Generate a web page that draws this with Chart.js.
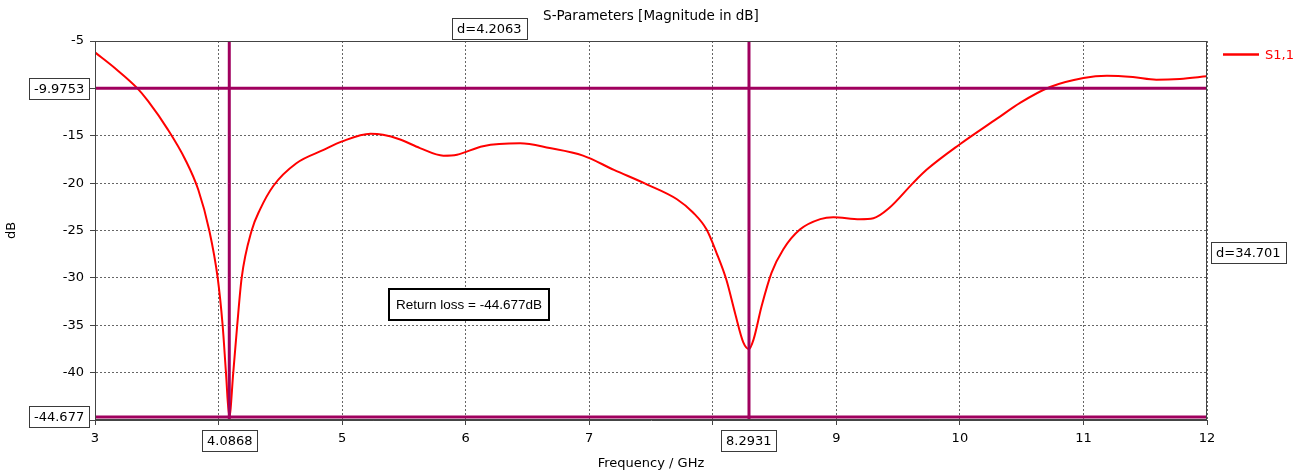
<!DOCTYPE html>
<html>
<head>
<meta charset="utf-8">
<title>S-Parameters</title>
<script src="https://cdn.jsdelivr.net/npm/chart.js@4/dist/chart.umd.min.js"></script>
<style>
    html, body { margin: 0; padding: 0; background: #fff; }
    #wrap { width: 1309px; height: 475px; position: relative; }
</style>
</head>
<body>
<div id="wrap"><canvas id="sparam-chart"></canvas></div>
<script>
// --- Data ---
const freqGHz = [
    3.00, 3.16, 3.34, 3.43, 3.59, 3.73, 3.836, 3.925, 3.993, 4.033,
    4.060, 4.0868, 4.119, 4.151, 4.187, 4.268, 4.335, 4.443, 4.63,
    4.85, 5.00, 5.23, 5.33, 5.47, 5.63, 5.82, 5.93, 6.14, 6.44,
    6.68, 6.95, 7.20, 7.47, 7.71, 7.84, 7.95, 8.03, 8.11, 8.18,
    8.247, 8.2931, 8.33, 8.395, 8.476, 8.57, 8.705, 8.87, 8.975, 9.19,
    9.30, 9.43, 9.62, 9.73, 10.0, 10.3, 10.49, 10.73, 11.0, 11.19,
    11.4, 11.59, 11.78, 12.0
];
const s11dB = [
    -6.2, -7.85, -9.95, -11.35, -14.35, -17.5, -20.7, -25.0, -30.0, -35.0,
    -40.0, -44.677, -40.0, -35.0, -30.0, -25.0, -22.8, -20.3, -17.9,
    -16.5, -15.6, -14.8, -14.9, -15.4, -16.3, -17.1, -17.0, -16.1, -15.8,
    -16.3, -17.1, -18.6, -20.15, -21.7, -23.1, -24.9, -27.35, -30.2, -33.7,
    -36.8, -37.5, -36.5, -33.0, -29.45, -27.0, -24.9, -23.8, -23.6, -23.8,
    -23.7, -22.6, -20.0, -18.6, -15.9, -13.2, -11.5, -9.85, -8.9, -8.66,
    -8.8, -9.08, -9.0, -8.73
];
const seriesName = 'S1,1';

// markers (vertical = frequency, horizontal = level)
const markerFreqs = [4.0868, 8.2931];
const markerLevels = [-9.9753, -44.677];

// axis ranges / ticks
const xTicks = [3, 4, 5, 6, 7, 8, 9, 10, 11, 12];
const yTicks = [-5, -10, -15, -20, -25, -30, -35, -40, -45];

const titleText = 'S-Parameters [Magnitude in dB]';
const xTitle = 'Frequency / GHz';
const yTitle = 'dB';
const noteText = 'Return loss = -44.677dB';
const noteAnchor = { x: 6.03, y: -32.8 };

const CURVE_COLOR = '#ff0000';
const MARKER_COLOR = '#a0005e';
const FONT = 'DejaVu Sans';

// --- Helpers ---
const xMin = Math.min(...xTicks), xMax = Math.max(...xTicks);
const yMin = Math.min(...yTicks), yMax = Math.max(...yTicks);

function trunc(v, digits) {
    const p = Math.pow(10, digits);
    return (Math.floor(v * p + 1e-6) / p).toFixed(digits);
}

function drawBox(ctx, text, cx, cy, align, opts = {}) {
    const font = opts.font || `13px "${FONT}"`;
    const padX = opts.padX || 5;
    const h = opts.height || 21;
    ctx.font = font;
    const w = ctx.measureText(text).width + padX * 2;
    let left = cx - w / 2;
    if (align === 'right') left = cx - w;
    if (align === 'left') left = cx;
    const top = Math.round(cy - h / 2);
    left = Math.round(left);
    const lw = opts.lineWidth || 1;
    ctx.fillStyle = '#fff';
    ctx.fillRect(left, top, w, h);
    ctx.strokeStyle = opts.border || '#3a3a3a';
    ctx.lineWidth = lw;
    const off = lw % 2 ? 0.5 : 0;
    ctx.strokeRect(left + off, top + off, Math.round(w), h);
    ctx.fillStyle = '#000';
    ctx.textAlign = 'center';
    ctx.textBaseline = 'middle';
    ctx.fillText(text, left + w / 2, top + h / 2 + 1);
}

// frame, title, legend and marker read-outs
const decorations = {
    id: 'decorations',
    afterDraw(chart) {
        const { ctx, chartArea: a, scales: { x, y } } = chart;
        ctx.save();

        // plot frame
        ctx.strokeStyle = '#444';
        ctx.lineWidth = 1;
        ctx.strokeRect(Math.round(a.left) + 0.5, Math.round(a.top) + 0.5,
            Math.round(a.width) - 1, Math.round(a.height) - 1);

        // title
        ctx.fillStyle = '#000';
        ctx.font = `13.5px "${FONT}"`;
        ctx.textAlign = 'center';
        ctx.textBaseline = 'middle';
        ctx.fillText(titleText, (a.left + a.right) / 2, 16);

        // legend
        const curve = chart.data.datasets.find(d => d.label === seriesName);
        ctx.font = `13px "${FONT}"`;
        ctx.strokeStyle = curve.borderColor;
        ctx.lineWidth = 2.5;
        ctx.beginPath();
        ctx.moveTo(a.right + 16, 54.5);
        ctx.lineTo(a.right + 52, 54.5);
        ctx.stroke();
        ctx.fillStyle = curve.borderColor;
        ctx.textAlign = 'left';
        ctx.fillText(curve.label, a.right + 58, 56);

        // marker values on the axes
        markerLevels.forEach(v => {
            drawBox(ctx, String(v), a.left - 6, y.getPixelForValue(v), 'right');
        });
        markerFreqs.forEach(f => {
            drawBox(ctx, String(f), x.getPixelForValue(f), a.bottom + 20, 'center');
        });

        // deltas between markers
        const fx = markerFreqs.map(f => x.getPixelForValue(f));
        const dF = Math.abs(markerFreqs[1] - markerFreqs[0]);
        drawBox(ctx, 'd=' + trunc(dF, 4), (fx[0] + fx[1]) / 2, a.top - 12.5, 'center');

        const ly = markerLevels.map(v => y.getPixelForValue(v));
        const dL = Math.abs(markerLevels[0] - markerLevels[1]);
        drawBox(ctx, 'd=' + trunc(dL, 3), a.right + 4, (ly[0] + ly[1]) / 2, 'left');

        // note box
        drawBox(ctx, noteText, x.getPixelForValue(noteAnchor.x), y.getPixelForValue(noteAnchor.y), 'center', {
            font: '13.5px "Liberation Sans"', padX: 7, height: 31, lineWidth: 2, border: '#000'
        });

        ctx.restore();
    }
};

document.addEventListener('DOMContentLoaded', () => {
    const curvePoints = freqGHz.map((f, i) => ({ x: f, y: s11dB[i] }));

    const markerSets = [];
    markerFreqs.forEach(f => {
        markerSets.push({
            label: 'marker ' + f,
            data: [{ x: f, y: yMin }, { x: f, y: yMax }],
            borderColor: MARKER_COLOR,
            borderWidth: 3,
            pointRadius: 0,
            showLine: true,
            order: 0
        });
    });
    markerLevels.forEach(v => {
        markerSets.push({
            label: 'marker ' + v,
            data: [{ x: xMin, y: v }, { x: xMax, y: v }],
            borderColor: MARKER_COLOR,
            borderWidth: 3,
            pointRadius: 0,
            showLine: true,
            order: 0
        });
    });

    const hiddenX = markerFreqs.map(f => Math.round(f));
    const hiddenY = markerLevels.map(v => Math.round(v / 5) * 5);

    new Chart(document.getElementById('sparam-chart'), {
        type: 'scatter',
        data: {
            datasets: [{
                label: seriesName,
                data: curvePoints,
                borderColor: CURVE_COLOR,
                backgroundColor: CURVE_COLOR,
                borderWidth: 2,
                pointRadius: 0,
                showLine: true,
                cubicInterpolationMode: 'monotone',
                order: 1
            }, ...markerSets]
        },
        options: {
            responsive: true,
            maintainAspectRatio: false,
            animation: false,
            layout: { padding: { left: 0, top: 41, right: 102, bottom: 0 } },
            plugins: {
                legend: { display: false },
                title: { display: false },
                tooltip: { enabled: false }
            },
            scales: {
                x: {
                    type: 'linear',
                    min: xMin,
                    max: xMax,
                    afterFit: (s) => { s.height = 55; },
                    afterBuildTicks: (s) => { s.ticks = xTicks.map(v => ({ value: v })); },
                    ticks: {
                        color: '#000',
                        font: { family: FONT, size: 13 },
                        padding: 6,
                        maxRotation: 0,
                        callback: (v) => hiddenX.includes(v) ? '' : v
                    },
                    grid: { color: '#666', tickColor: '#444', tickLength: 5, tickBorderDash: [] },
                    border: { display: true, color: '#444', width: 1, dash: [2, 2] },
                    title: {
                        display: true, text: xTitle, color: '#000',
                        font: { family: FONT, size: 13 }, padding: { top: 0, bottom: 4 }
                    }
                },
                y: {
                    type: 'linear',
                    min: yMin,
                    max: yMax,
                    afterFit: (s) => { s.width = 95; },
                    afterBuildTicks: (s) => { s.ticks = yTicks.map(v => ({ value: v })); },
                    ticks: {
                        color: '#000',
                        font: { family: FONT, size: 13 },
                        padding: 6,
                        callback: (v) => hiddenY.includes(v) ? '' : v
                    },
                    grid: { color: '#666', tickColor: '#444', tickLength: 5, tickBorderDash: [] },
                    border: { display: true, color: '#444', width: 1, dash: [2, 2] },
                    title: {
                        display: true, text: yTitle, color: '#000',
                        font: { family: FONT, size: 13 }, padding: { top: 4, bottom: 0 }
                    }
                }
            }
        },
        plugins: [decorations]
    });
});
</script>
</body>
</html>
